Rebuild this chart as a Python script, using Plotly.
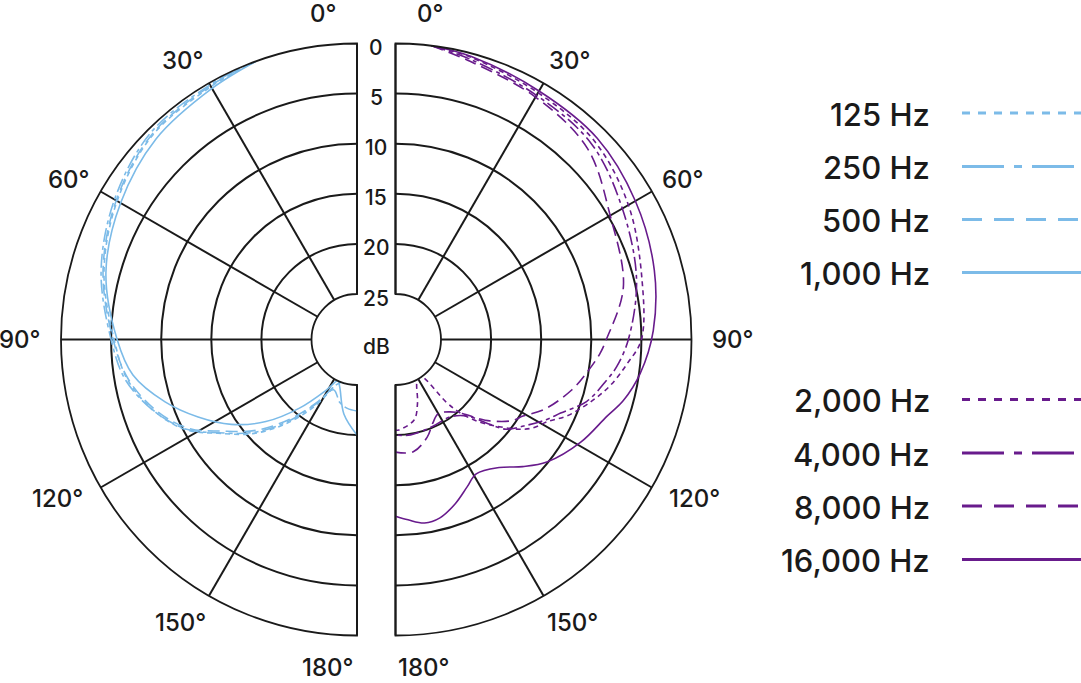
import math
import plotly.graph_objects as go

W, H = 1081, 683

# polar pattern data: angle (deg) and attenuation (dB below on-axis)
low_freqs = ["125 Hz", "250 Hz", "500 Hz", "1,000 Hz"]
high_freqs = ["2,000 Hz", "4,000 Hz", "8,000 Hz", "16,000 Hz"]

theta_125 = [20, 30, 45, 60, 75, 90, 100, 110, 118, 124, 132, 140, 148, 155, 160]
att_125 = [0, 0.4, 0.7, 1.9, 3.4, 5.3, 6.3, 8.2, 10.3, 12.8, 15.5, 18.6, 21.8, 24.5, 25]

theta_250 = [20, 30, 45, 60, 75, 90, 100, 110, 118, 124, 132, 140, 148, 155, 165, 172, 180]
att_250 = [0, 0.2, 0.4, 1.6, 3.1, 5.0, 6.1, 8.2, 10.4, 12.9, 15.7, 18.9, 22.1, 24.0, 23.0, 22.6, 22.4]

theta_500 = [20, 30, 45, 60, 75, 90, 100, 110, 118, 124, 132, 140, 148, 155, 160, 165]
att_500 = [0, 0.3, 0.6, 1.8, 3.3, 5.2, 6.4, 8.4, 10.6, 13.2, 16.0, 19.2, 22.3, 24.5, 25, 25]

theta_1000 = [20, 30, 45, 60, 75, 90, 99, 108, 116, 124, 132, 140, 149, 155, 160, 170, 180]
att_1000 = [0, 0.6, 1.2, 2.3, 3.6, 5.6, 6.9, 9.4, 11.9, 14.4, 17.3, 20.6, 23.7, 25, 24.5, 22.0, 20.0]

theta_2000 = [7, 15, 30, 45, 60, 76, 90, 96, 102, 107, 114, 118, 123, 126, 130, 135, 139, 141, 145, 150, 154, 161, 167, 178, 180]
att_2000 = [0, 0.4, 1.1, 1.5, 2.7, 4.2, 5.0, 6.3, 7.6, 8.9, 10.8, 12.2, 13.3, 14.3, 16.0, 18.0, 20.0, 21.5, 25, 25, 24.7, 22.8, 21.3, 20.5, 20.5]

theta_4000 = [7, 15, 30, 45, 60, 76, 90, 97, 101, 108, 114, 118, 124, 129, 132, 137, 145, 157, 171, 180]
att_4000 = [0, 0.6, 1.4, 1.9, 3.4, 4.75, 6.3, 7.3, 8.1, 9.5, 11.5, 12.5, 14.1, 15.3, 16.9, 19.1, 20.1, 20.1, 19.9, 20.0]

theta_8000 = [7, 15, 30, 45, 60, 77, 90, 94, 100, 106, 115, 121, 125, 132, 138, 143, 150, 156, 162, 171, 180]
att_8000 = [0, 0.8, 1.6, 2.5, 4.8, 6.2, 8.5, 9.1, 10.2, 11.25, 13.1, 14.7, 15.4, 17.5, 19.6, 20.5, 21.0, 20.4, 19.3, 18.2, 18.3]

theta_16000 = [7, 15, 30, 45, 60, 75, 88, 98, 105, 110, 119, 129, 135, 141, 149, 154, 160, 166, 171, 176, 180]
att_16000 = [0, 0.3, 0.9, 1.1, 1.9, 2.8, 3.8, 4.9, 6.0, 7.1, 8.4, 10.1, 11.6, 13.1, 13.9, 13.2, 12.1, 11.2, 11.0, 11.5, 11.9]

db_ticks = [0, 5, 10, 15, 20, 25]
angle_ticks = [0, 30, 60, 90, 120, 150, 180]

BLUE = "#7cbbe8"
PURPLE = "#681b8c"
INK = "#1a1a1a"
FONT = "Inter"

curve_dash = ["5px,4px", "14px,4px,4px,4px", "12px,6px", "solid"]
legend_dash = ["8px,8px", "42px,10px,8px,10px", "20px,12px", "solid"]

# geometry of the two half plots (pixels)
R = 296
HOLE = 45.5
CY = 339.5
CX_L, CX_R = 357, 395.5
# where the angle labels sit: direction (deg) and distance from centre (px)
label_dir = [6, 32, 61, 90, 118, 148, 175]
label_dist = [328, 329, 329, 337, 339, 334, 329]

low_series = [(theta_125, att_125), (theta_250, att_250), (theta_500, att_500), (theta_1000, att_1000)]
high_series = [(theta_2000, att_2000), (theta_4000, att_4000), (theta_8000, att_8000), (theta_16000, att_16000)]

fig = go.Figure()
for (th, att), d in zip(low_series, curve_dash):
    fig.add_trace(go.Scatterpolar(r=[-a for a in att], theta=th, mode="lines", subplot="polar",
                                  line=dict(color=BLUE, width=1.6, dash=d, shape="spline"),
                                  showlegend=False, hoverinfo="skip"))
for (th, att), d in zip(high_series, curve_dash):
    fig.add_trace(go.Scatterpolar(r=[-a for a in att], theta=th, mode="lines", subplot="polar2",
                                  line=dict(color=PURPLE, width=1.6, dash=d, shape="spline"),
                                  showlegend=False, hoverinfo="skip"))


def polar_cfg(x0, x1, direction, sector):
    return dict(
        domain=dict(x=[x0 / W, x1 / W], y=[1 - (CY + R) / H, 1 - (CY - R) / H]),
        sector=sector,
        hole=HOLE / R,
        bgcolor="white",
        angularaxis=dict(direction=direction, rotation=90, tickvals=list(range(0, 360, 30)),
                         showticklabels=False, ticks="", showgrid=True, gridcolor=INK, gridwidth=1.6,
                         showline=True, linecolor=INK, linewidth=1.8),
        radialaxis=dict(range=[-25, 0], tickvals=[-v for v in db_ticks], showticklabels=False,
                        ticks="", showline=False, showgrid=True, gridcolor=INK, gridwidth=1.6),
    )


fig.update_layout(
    width=W, height=H, margin=dict(l=0, r=0, t=0, b=0),
    paper_bgcolor="white", plot_bgcolor="white",
    font=dict(family=FONT, color=INK, weight=500),
    polar=polar_cfg(CX_L - R, CX_L, "counterclockwise", [90, 270]),
    polar2=polar_cfg(CX_R, CX_R + R, "clockwise", [-90, 90]),
)

annotations = []
# angle labels around both halves
for a, shown, rr in zip(angle_ticks, label_dir, label_dist):
    for cx, side in ((CX_L, -1), (CX_R, 1)):
        x = cx + side * rr * math.sin(math.radians(shown))
        y = CY - rr * math.cos(math.radians(shown))
        annotations.append(dict(x=x / W, y=1 - y / H, xref="paper", yref="paper", text=f"{a}°",
                                showarrow=False, font=dict(size=24, color=INK),
                                xanchor="center", yanchor="middle"))

# dB scale between the halves
xm = (CX_L + CX_R) / 2
for v in db_ticks:
    y = CY - (HOLE + (25 - v) / 25 * (R - HOLE)) + 4
    annotations.append(dict(x=xm / W, y=1 - y / H, xref="paper", yref="paper", text=str(v),
                            showarrow=False, font=dict(size=21, color=INK),
                            xanchor="center", yanchor="middle"))
annotations.append(dict(x=xm / W, y=1 - 346 / H, xref="paper", yref="paper", text="dB",
                        showarrow=False, font=dict(size=21, color=INK),
                        xanchor="center", yanchor="middle"))

# legend: label on the left, line sample on the right
shapes = []
legend_rows = [(low_freqs, BLUE, [113, 166.5, 219.5, 272.5]),
               (high_freqs, PURPLE, [399.5, 453, 506, 559.5])]
for names, color, ys in legend_rows:
    for name, d, y in zip(names, legend_dash, ys):
        annotations.append(dict(x=932 / W, y=1 - (y + 1) / H, xref="paper", yref="paper", text=name,
                                showarrow=False, font=dict(size=31, color=INK),
                                xanchor="right", yanchor="middle"))
        shapes.append(dict(type="line", xref="paper", yref="paper", x0=962 / W, x1=1.0,
                           y0=1 - y / H, y1=1 - y / H, line=dict(color=color, width=2.8, dash=d)))

fig.update_layout(annotations=annotations, shapes=shapes)
# page body has a default 8px margin; drop it so the figure fills the window
fig.write_html("out.html", config={"displayModeBar": False},
               post_script="document.body.style.margin='0px';")
